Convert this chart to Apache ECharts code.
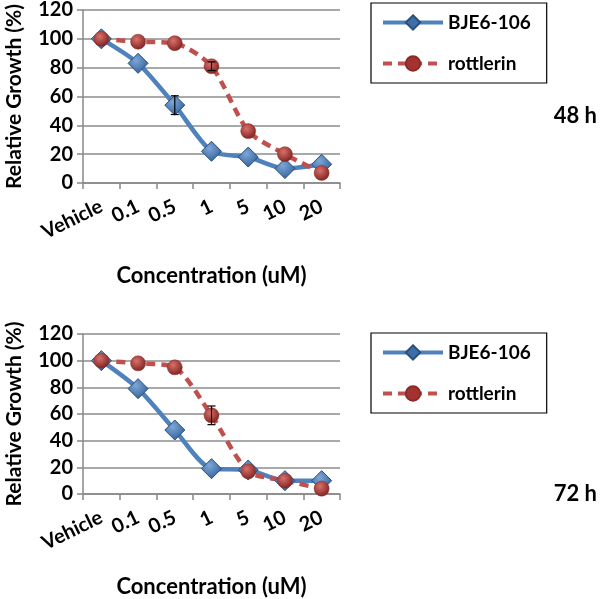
<!DOCTYPE html>
<html><head><meta charset="utf-8">
<script src="https://cdn.jsdelivr.net/npm/echarts@6/dist/echarts.min.js"></script>
<style>html,body{margin:0;padding:0;background:#fff}#c{width:600px;height:599px}</style>
</head><body><div id="c"></div>
<script>
const categories = ['Vehicle','0.1','0.5','1','5','10','20'];
const bje48 = [100, 83, 54, 22, 18, 10, 13];
const rot48 = [100, 98, 97, 81, 36, 20, 7];
const bje48Err = [0, 0, 6.5, 0, 0, 0, 0];
const rot48Err = [0, 0, 0, 3, 0, 0, 0];
const bje72 = [100, 79, 48, 19, 18, 10, 10];
const rot72 = [100, 98, 95, 59, 17, 10, 4];
const bje72Err = [0, 0, 0, 0, 0, 0, 0];
const rot72Err = [0, 0, 0, 7, 0, 0, 0];
const yTicks = {min:0, max:120, interval:20};
const panelLabels = ['48 h', '72 h'];

const FONT = 'Lato';
const chart = echarts.init(document.getElementById('c'), null, {renderer:'canvas'});

const blueFill = {type:'radial', x:0.4, y:0.35, r:0.7, colorStops:[{offset:0,color:'#7ea6d8'},{offset:1,color:'#2f5f96'}]};
const redFill = {type:'radial', x:0.4, y:0.35, r:0.7, colorStops:[{offset:0,color:'#d9706c'},{offset:1,color:'#7a1f1c'}]};

function errSeries(vals, errs, xi, yi) {
  const data = [];
  errs.forEach((e,i)=>{ if (e>0) data.push([i, vals[i], e]); });
  return {
    type:'custom', xAxisIndex:xi, yAxisIndex:yi, z:5, silent:true,
    data: data,
    renderItem: function(params, api){
      const x = api.value(0), v = api.value(1), e = api.value(2);
      const hi = api.coord([x, v+e]), lo = api.coord([x, v-e]);
      const w = 4;
      return {type:'group', children:[
        {type:'line', shape:{x1:hi[0],y1:hi[1],x2:lo[0],y2:lo[1]}, style:{stroke:'#000',lineWidth:1.2}},
        {type:'line', shape:{x1:hi[0]-w,y1:hi[1],x2:hi[0]+w,y2:hi[1]}, style:{stroke:'#000',lineWidth:1.2}},
        {type:'line', shape:{x1:lo[0]-w,y1:lo[1],x2:lo[0]+w,y2:lo[1]}, style:{stroke:'#000',lineWidth:1.2}}
      ]};
    }
  };
}

function xAx(gi){
  return {
    type:'category', gridIndex:gi, data:categories, boundaryGap:true,
    axisLine:{lineStyle:{color:'#888', width:1.5}},
    axisTick:{show:true, alignWithLabel:false, length:6, lineStyle:{color:'#888', width:1.5}},
    axisLabel:{rotate:26, fontFamily:FONT, fontWeight:'bold', fontSize:20, color:'#000', margin:22, interval:0},
    splitLine:{show:false},
    name:'Concentration (uM)', nameLocation:'middle', nameGap:82,
    nameTextStyle:{fontFamily:FONT, fontWeight:'bold', fontSize:22, color:'#000'}
  };
}
function yAx(gi){
  return {
    type:'value', gridIndex:gi, min:yTicks.min, max:yTicks.max, interval:yTicks.interval,
    axisLine:{show:true, lineStyle:{color:'#888', width:1.5}},
    axisTick:{show:true, length:6, lineStyle:{color:'#888', width:1.5}},
    axisLabel:{fontFamily:FONT, fontWeight:'bold', fontSize:20, color:'#000', margin:10},
    splitLine:{lineStyle:{color:'#8c8c8c', width:1.5}},
    name:'Relative Growth (%)', nameLocation:'middle', nameGap:58,
    nameTextStyle:{fontFamily:FONT, fontWeight:'bold', fontSize:21, color:'#000'}
  };
}
function lineSeries(name, data, xi, yi, isBlue){
  return {
    name:name, type:'line', xAxisIndex:xi, yAxisIndex:yi, data:data, z:3,
    symbol: isBlue ? 'diamond' : 'circle',
    symbolSize: isBlue ? 20 : 15,
    itemStyle: isBlue ? {color:blueFill, borderColor:'#2a4f7a', borderWidth:1}
                      : {color:redFill, borderColor:'#8c2a27', borderWidth:0.5},
    lineStyle: isBlue ? {color:'#4f81bd', width:4.5} : {color:'#c0504d', width:4.5, type:[9,6]},
    smooth:0.25,
    emphasis:{disabled:true}
  };
}
function legend(top){
  return {
    left:371, top:top, orient:'vertical',
    borderColor:'#000', borderWidth:1.2, padding:[10,16,10,10],
    itemWidth:60, itemHeight:18, itemGap:22,
    data:[
      {name:'BJE6-106', itemStyle:{color:'#3d6ea8'}, lineStyle:{color:'#4f81bd', width:4}},
      {name:'rottlerin', itemStyle:{color:'#a33330'}, lineStyle:{color:'#c0504d', width:4, type:[9,6]}}
    ],
    textStyle:{fontFamily:FONT, fontWeight:'bold', fontSize:19, color:'#000', padding:[0,0,0,0]}
  };
}

chart.setOption({
  animation:false,
  backgroundColor:'#fff',
  grid:[{left:83, right:260, top:8, height:175}, {left:83, right:260, top:334, height:163}],
  xAxis:[xAx(0), xAx(1)],
  yAxis:[yAx(0), yAx(1)],
  legend:[legend(3), legend(333)],
  series:[
    lineSeries('BJE6-106', bje48, 0, 0, true),
    lineSeries('rottlerin', rot48, 0, 0, false),
    errSeries(bje48, bje48Err, 0, 0),
    errSeries(rot48, rot48Err, 0, 0),
    lineSeries('BJE6-106', bje72, 1, 1, true),
    lineSeries('rottlerin', rot72, 1, 1, false),
    errSeries(bje72, bje72Err, 1, 1),
    errSeries(rot72, rot72Err, 1, 1)
  ],
  graphic:[
    {type:'text', right:3, top:105, style:{text:panelLabels[0], font:'bold 22px '+FONT, fill:'#000'}},
    {type:'text', right:3, top:483, style:{text:panelLabels[1], font:'bold 22px '+FONT, fill:'#000'}}
  ]
});
</script></body></html>
